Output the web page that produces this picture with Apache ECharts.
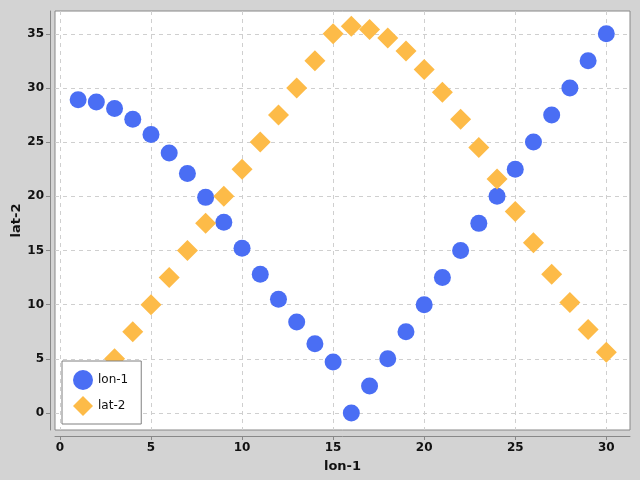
<!DOCTYPE html>
<html>
<head>
<meta charset="utf-8">
<script src="https://cdn.jsdelivr.net/npm/echarts@6/dist/echarts.min.js"></script>
<style>
  html, body { margin: 0; padding: 0; background: #d3d3d3; }
  #chart { width: 640px; height: 480px; }
</style>
</head>
<body>
<div id="chart"></div>
<script>
// 数据: x 为 1..30
var xs = [1, 2, 3, 4, 5, 6, 7, 8, 9, 10, 11, 12, 13, 14, 15,
  16, 17, 18, 19, 20, 21, 22, 23, 24, 25, 26, 27, 28, 29, 30];
var lon1 = [28.9, 28.7, 28.1, 27.1, 25.7, 24.0, 22.1, 19.9, 17.6, 15.2, 12.8, 10.5, 8.4, 6.4, 4.7,
  0, 2.5, 5, 7.5, 10, 12.5, 15, 17.5, 20, 22.5, 25, 27.5, 30, 32.5, 35];
var lat2 = [0, 2.5, 5, 7.5, 10, 12.5, 15, 17.5, 20, 22.5, 25, 27.5, 30, 32.5, 35,
  35.7, 35.4, 34.6, 33.4, 31.7, 29.6, 27.1, 24.5, 21.6, 18.6, 15.7, 12.8, 10.2, 7.7, 5.6];
var xTicks = [0, 5, 10, 15, 20, 25, 30];
var yTicks = [0, 5, 10, 15, 20, 25, 30, 35];

function pairs(ys) {
  return xs.map(function (x, i) { return [x, ys[i]]; });
}

var chart = echarts.init(document.getElementById('chart'));

var axisFont = { fontFamily: 'DejaVu Sans', fontWeight: 'bold', fontSize: 12, color: '#111' };

chart.setOption({
  backgroundColor: '#d3d3d3',
  animation: false,
  textStyle: { fontFamily: 'DejaVu Sans' },
  grid: {
    left: 55, right: 10, top: 11, bottom: 50,
    outerBoundsMode: 'none', containLabel: false,
    show: true, backgroundColor: '#fff', borderColor: '#888', borderWidth: 1
  },
  legend: {
    left: 62, top: 361,
    orient: 'vertical',
    backgroundColor: '#fff',
    borderColor: '#808080', borderWidth: 1, borderRadius: 0,
    padding: [9, 13, 8, 11],
    itemWidth: 20, itemHeight: 20, itemGap: 6, itemTextGap: 12,
    textStyle: { fontFamily: 'DejaVu Sans', fontSize: 12, color: '#111' },
    data: [
      { name: 'lon-1', icon: 'circle', itemStyle: { color: '#4a6ef4' } },
      { name: 'lat-2', icon: 'diamond', itemStyle: { color: '#fdbb48' } }
    ]
  },
  xAxis: {
    type: 'value', min: -0.27, max: 31.3, offset: 6,
    name: 'lon-1', nameLocation: 'middle', nameGap: 24,
    nameTextStyle: { fontFamily: 'DejaVu Sans', fontWeight: 'bold', fontSize: 13, color: '#111' },
    axisLine: { show: true, onZero: false, lineStyle: { color: '#888' } },
    axisTick: { show: true, length: 4, customValues: xTicks, lineStyle: { color: '#888' } },
    axisLabel: Object.assign({ customValues: xTicks, margin: 6 }, axisFont),
    splitLine: { show: true, lineStyle: { color: '#cfcfcf', type: [4, 4] } }
  },
  yAxis: {
    type: 'value', min: -1.57, max: 37.1, offset: 5,
    name: 'lat-2', nameLocation: 'middle', nameGap: 27, nameRotate: 90, nameMoveOverlap: false,
    nameTextStyle: { fontFamily: 'DejaVu Sans', fontWeight: 'bold', fontSize: 13, color: '#111' },
    axisLine: { show: true, onZero: false, lineStyle: { color: '#888' } },
    axisTick: { show: true, length: 4, customValues: yTicks, lineStyle: { color: '#888' } },
    axisLabel: Object.assign({ customValues: yTicks, margin: 6 }, axisFont),
    splitLine: { show: true, lineStyle: { color: '#cfcfcf', type: [4, 4] } }
  },
  series: [
    {
      name: 'lon-1', type: 'scatter', symbol: 'circle', symbolSize: 17,
      itemStyle: { color: '#4a6ef4', opacity: 1 },
      data: pairs(lon1)
    },
    {
      name: 'lat-2', type: 'scatter', symbol: 'diamond', symbolSize: 21,
      itemStyle: { color: '#fdbb48', opacity: 1 },
      data: pairs(lat2)
    }
  ]
});
</script>
</body>
</html>
